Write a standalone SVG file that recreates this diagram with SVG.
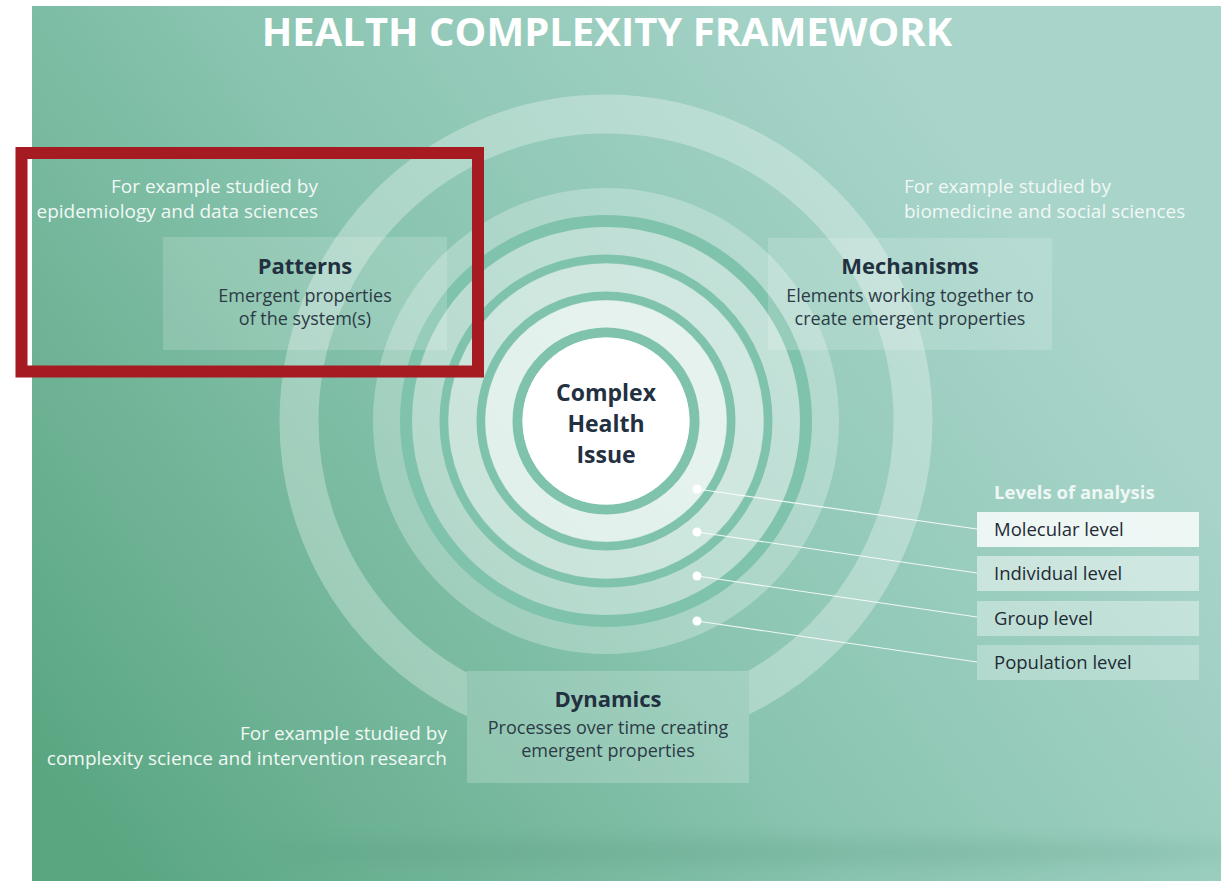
<svg xmlns="http://www.w3.org/2000/svg" width="1222" height="881" viewBox="0 0 1222 881">
  <defs>
    <linearGradient id="bg" gradientUnits="userSpaceOnUse" x1="100" y1="860" x2="1000" y2="200">
      <stop offset="0" stop-color="#5aa681"/>
      <stop offset="0.55" stop-color="#8ac5b1"/>
      <stop offset="1" stop-color="#a8d4ca"/>
    </linearGradient>
    <filter id="soft" x="-20%" y="-200%" width="140%" height="500%">
      <feGaussianBlur stdDeviation="9"/>
    </filter>
    <style>
      .sans { font-family: 'Open Sans', 'Noto Sans', 'Liberation Sans', sans-serif; }
      .title { font-size: 40px; font-weight: 700; fill: #ffffff; text-anchor: middle; }
      .note { font-size: 19px; fill: #f1f8f5; }
      .head { font-size: 22px; font-weight: 700; fill: #22303f; text-anchor: middle; }
      .sub { font-size: 18px; fill: #2c3b46; text-anchor: middle; }
      .panel { fill: #ffffff; fill-opacity: 0.17; }
      .band { fill: #ffffff; }
      .teal { fill: none; stroke: #80c3ad; }
      .lvl-head { font-size: 18.5px; font-weight: 700; fill: #eef7f4; }
      .lvl { font-size: 18.5px; fill: #1e2b35; }
      .link { stroke: #ffffff; stroke-opacity: 0.85; stroke-width: 1.2; fill: none; }
      .dot { fill: #ffffff; }
    </style>
  </defs>

  <!-- canvas -->
  <rect x="0" y="0" width="1222" height="881" fill="#ffffff"/>
  <rect x="32" y="6" width="1189" height="875" fill="url(#bg)"/>
  <ellipse cx="760" cy="852" rx="500" ry="13" fill="#4f8f74" opacity="0.2" filter="url(#soft)"/>

  <g id="title">
    <text class="sans title" x="607" y="46">HEALTH COMPLEXITY FRAMEWORK</text>
  </g>

  <!-- concentric levels around the central issue -->
  <g id="core">
    <circle cx="606" cy="421" r="307" fill="none" stroke="#ffffff" stroke-opacity="0.3" stroke-width="39"/>
    <circle class="band" cx="606" cy="421" r="233" fill-opacity="0.27"/>
    <circle class="teal" cx="606" cy="421" r="200" stroke-width="12"/>
    <circle class="band" cx="606" cy="421" r="194" fill-opacity="0.2"/>
    <circle class="teal" cx="606" cy="421" r="162" stroke-width="9"/>
    <circle class="band" cx="606" cy="421" r="158" fill-opacity="0.27"/>
    <circle class="teal" cx="606" cy="421" r="125" stroke-width="9"/>
    <circle class="band" cx="606" cy="421" r="121" fill-opacity="0.45"/>
    <circle class="teal" cx="606" cy="421" r="88.5" stroke-width="10"/>
    <circle cx="606" cy="421" r="83.5" fill="#ffffff"/>
    <text class="sans head" x="606" y="401" style="font-size:23px">Complex</text>
    <text class="sans head" x="606" y="432" style="font-size:23px">Health</text>
    <text class="sans head" x="606" y="463" style="font-size:23px">Issue</text>
  </g>

  <g id="patterns">
    <text class="sans note" x="318" y="193" text-anchor="end">For example studied by</text>
    <text class="sans note" x="318" y="218" text-anchor="end">epidemiology and data sciences</text>
    <rect class="panel" x="163" y="237" width="284" height="113"/>
    <text class="sans head" x="305" y="274">Patterns</text>
    <text class="sans sub" x="305" y="302">Emergent properties</text>
    <text class="sans sub" x="305" y="325">of the system(s)</text>
  </g>

  <g id="mechanisms">
    <text class="sans note" x="904" y="193">For example studied by</text>
    <text class="sans note" x="904" y="218">biomedicine and social sciences</text>
    <rect class="panel" x="768" y="238" width="284" height="112"/>
    <text class="sans head" x="910" y="274">Mechanisms</text>
    <text class="sans sub" x="910" y="302">Elements working together to</text>
    <text class="sans sub" x="910" y="325">create emergent properties</text>
  </g>

  <g id="dynamics">
    <text class="sans note" x="447" y="740" text-anchor="end">For example studied by</text>
    <text class="sans note" x="447" y="765" text-anchor="end">complexity science and intervention research</text>
    <rect x="467" y="671" width="282" height="112" fill="url(#bg)"/>
    <rect class="panel" x="467" y="671" width="282" height="112" style="fill-opacity:0.2"/>
    <text class="sans head" x="608" y="707">Dynamics</text>
    <text class="sans sub" x="608" y="734">Processes over time creating</text>
    <text class="sans sub" x="608" y="757">emergent properties</text>
  </g>

  <g id="connectors">
    <line class="link" x1="697" y1="489" x2="977" y2="529"/>
    <line class="link" x1="697" y1="532" x2="977" y2="573"/>
    <line class="link" x1="697" y1="576" x2="977" y2="617"/>
    <line class="link" x1="697" y1="621" x2="977" y2="662"/>
    <circle class="dot" cx="697" cy="489" r="4.5"/>
    <circle class="dot" cx="697" cy="532" r="4.5"/>
    <circle class="dot" cx="697" cy="576" r="4.5"/>
    <circle class="dot" cx="697" cy="621" r="4.5"/>
  </g>

  <g id="levels">
    <text class="sans lvl-head" x="994" y="499">Levels of analysis</text>
    <g id="level-molecular">
      <rect x="977" y="512" width="222" height="35" fill="#ffffff" fill-opacity="0.82"/>
      <text class="sans lvl" x="994" y="536">Molecular level</text>
    </g>
    <g id="level-individual">
      <rect x="977" y="556" width="222" height="35" fill="#ffffff" fill-opacity="0.48"/>
      <text class="sans lvl" x="994" y="580">Individual level</text>
    </g>
    <g id="level-group">
      <rect x="977" y="601" width="222" height="35" fill="#ffffff" fill-opacity="0.37"/>
      <text class="sans lvl" x="994" y="625">Group level</text>
    </g>
    <g id="level-population">
      <rect x="977" y="645" width="222" height="35" fill="#ffffff" fill-opacity="0.27"/>
      <text class="sans lvl" x="994" y="669">Population level</text>
    </g>
  </g>

  <!-- highlight frame -->
  <g id="highlight">
    <rect x="21.5" y="153" width="456.5" height="218.5" fill="none" stroke="#a51b21" stroke-width="12"/>
  </g>
</svg>
